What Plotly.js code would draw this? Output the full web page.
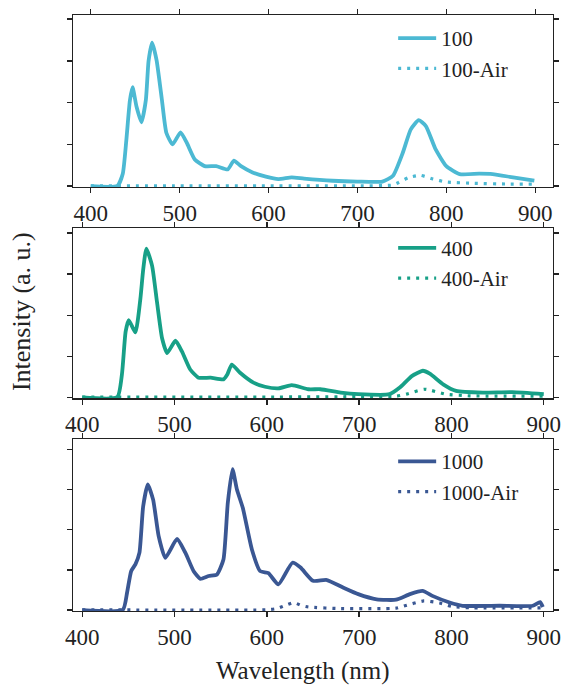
<!DOCTYPE html>
<html>
<head>
<meta charset="utf-8">
<script src="https://cdn.plot.ly/plotly-3.0.1.min.js"></script>
<style>html,body{margin:0;padding:0;background:#fff;}#chart{width:566px;height:689px;}</style>
</head>
<body>
<div id="chart"></div>
<script>
// ---- Data ----
const wl100 = [400,430,436,440,444,447,451.5,457,462,465,469,474,480,485,492,501,508,517,528,541,554,561,569,582,597,611,626,640,672,700,728,740,751,760,769,777,788,800,815,837,852,875,899];
const i100  = [0,0.01,0.3,1.1,2.05,2.37,1.9,1.53,2.07,3.0,3.44,3.02,2.07,1.28,1.0,1.29,1.04,0.64,0.48,0.48,0.40,0.61,0.48,0.33,0.23,0.17,0.21,0.18,0.13,0.11,0.11,0.25,0.8,1.36,1.58,1.44,0.88,0.48,0.29,0.30,0.29,0.21,0.13];
const wl100Air = [400,500,600,700,740,758,771,785,800,830,870,898];
const i100Air  = [0.01,0.01,0.01,0.01,0.03,0.21,0.26,0.17,0.10,0.07,0.05,0.05];

const wl400 = [400,438,443,447,450.4,457.6,463,466,469.5,475.7,481,486.5,492,501,508,517,526,539,553,557,562,571,585.5,598,612.5,627,645,658,680,699,733,744,757,769,776.5,791,805,834,866,900];
const i400  = [0,0.01,0.56,1.6,1.88,1.58,2.4,3.1,3.62,3.2,2.32,1.44,1.08,1.38,1.12,0.68,0.48,0.48,0.44,0.55,0.80,0.6,0.36,0.26,0.22,0.30,0.20,0.2,0.12,0.08,0.08,0.24,0.52,0.65,0.58,0.32,0.16,0.12,0.13,0.08];
const wl400Air = [400,600,700,740,751,771,794,820,900];
const i400Air  = [0.01,0.01,0.02,0.03,0.08,0.2,0.08,0.04,0.03];

const wl1000 = [400,444,448.6,453,457.6,462,466,471,476.8,482.8,490,502.7,511.7,520.7,528,537,546,553,557.7,562.8,567.6,574,583.8,592.8,601.7,612.5,627.7,636.5,650,665,683,699,719,740,755,768.7,780,798,812,852,888,896,899];
const i1000  = [0,0.01,0.44,0.97,1.14,1.43,2.58,3.13,2.75,1.84,1.30,1.77,1.43,0.97,0.78,0.85,0.89,1.26,2.67,3.51,3.0,2.54,1.51,0.97,0.92,0.64,1.18,1.06,0.73,0.75,0.56,0.40,0.27,0.26,0.40,0.48,0.35,0.19,0.11,0.11,0.11,0.2,0.08];
const wl1000Air = [400,600,611,620,629,637,645,680,740,748,770,787,801,820,899];
const i1000Air  = [0.01,0.01,0.04,0.12,0.19,0.12,0.08,0.04,0.05,0.10,0.23,0.18,0.09,0.06,0.06];

const xTicks = [400,500,600,700,800,900];
const yTicks = [0,1,2,3,4];
const names = ['100','100-Air','400','400-Air','1000','1000-Air'];
const colors = ['#4cb9d3','#17a087','#3a5793'];

// ---- Traces ----
function solid(x,y,name,c,xa,ya,lg){
  return {x:x,y:y,name:name,type:'scatter',mode:'lines',xaxis:xa,yaxis:ya,legend:lg,
          line:{color:c,width:3.8,shape:'spline',smoothing:0.5}};
}
function dotted(x,y,name,c,xa,ya,lg){
  return {x:x,y:y,name:name,type:'scatter',mode:'lines',xaxis:xa,yaxis:ya,legend:lg,
          line:{color:c,width:3.2,dash:'3px,6px',shape:'spline',smoothing:0.5}};
}
const data = [
  solid(wl100,i100,names[0],colors[0],'x','y','legend'),
  dotted(wl100Air,i100Air,names[1],colors[0],'x','y','legend'),
  solid(wl400,i400,names[2],colors[1],'x2','y2','legend2'),
  dotted(wl400Air,i400Air,names[3],colors[1],'x2','y2','legend2'),
  solid(wl1000,i1000,names[4],colors[2],'x3','y3','legend3'),
  dotted(wl1000Air,i1000Air,names[5],colors[2],'x3','y3','legend3')
];

const FONT = 'Liberation Serif, Times New Roman, serif';
function xax(range,anchor){
  return {range:range,anchor:anchor,domain:[0,1],tickvals:xTicks,showgrid:false,zeroline:false,
          showline:true,mirror:'ticks',linecolor:'#222',linewidth:1.4,ticks:'outside',ticklen:5,
          tickwidth:1.4,tickcolor:'#222',tickfont:{family:FONT,size:23,color:'#222'}};
}
function yax(domain,range,anchor){
  return {domain:domain,range:range,anchor:anchor,tickvals:yTicks,showticklabels:false,showgrid:false,
          zeroline:false,showline:true,mirror:'ticks',linecolor:'#222',linewidth:1.4,ticks:'outside',
          ticklen:5,tickwidth:1.4,tickcolor:'#222'};
}
function leg(y){
  return {x:0.667,y:y,xanchor:'left',yanchor:'top',bgcolor:'rgba(0,0,0,0)',borderwidth:0,itemwidth:38,
          font:{family:FONT,size:21,color:'#222'},tracegroupgap:0};
}

const layout = {
  width:566,height:689,
  margin:{l:73,r:13,t:15,b:78},
  paper_bgcolor:'#fff',plot_bgcolor:'#fff',
  font:{family:FONT,color:'#222'},
  xaxis:xax([380,920],'y'),
  yaxis:yax([0.7114,1],[-0.02,4.1],'x'),
  xaxis2:xax([390,910],'y2'),
  yaxis2:yax([0.3569,0.6426],[-0.02,4.12],'x2'),
  xaxis3:xax([390,910],'y3'),
  yaxis3:yax([0,0.2881],[-0.02,4.25],'x3'),
  legend:leg(0.995),
  legend2:leg(0.643),
  legend3:leg(0.285),
  annotations:[
    {text:'Intensity (a. u.)',xref:'paper',yref:'paper',x:-0.106,y:0.5017,xanchor:'center',yanchor:'middle',
     textangle:-90,showarrow:false,font:{family:FONT,size:26,color:'#222'}},
    {text:'Wavelength (nm)',xref:'paper',yref:'paper',x:0.479,y:-0.1,xanchor:'center',yanchor:'middle',
     showarrow:false,font:{family:FONT,size:25,color:'#222'}}
  ]
};

Plotly.newPlot('chart',data,layout,{displayModeBar:false,staticPlot:true});
</script>
</body>
</html>
